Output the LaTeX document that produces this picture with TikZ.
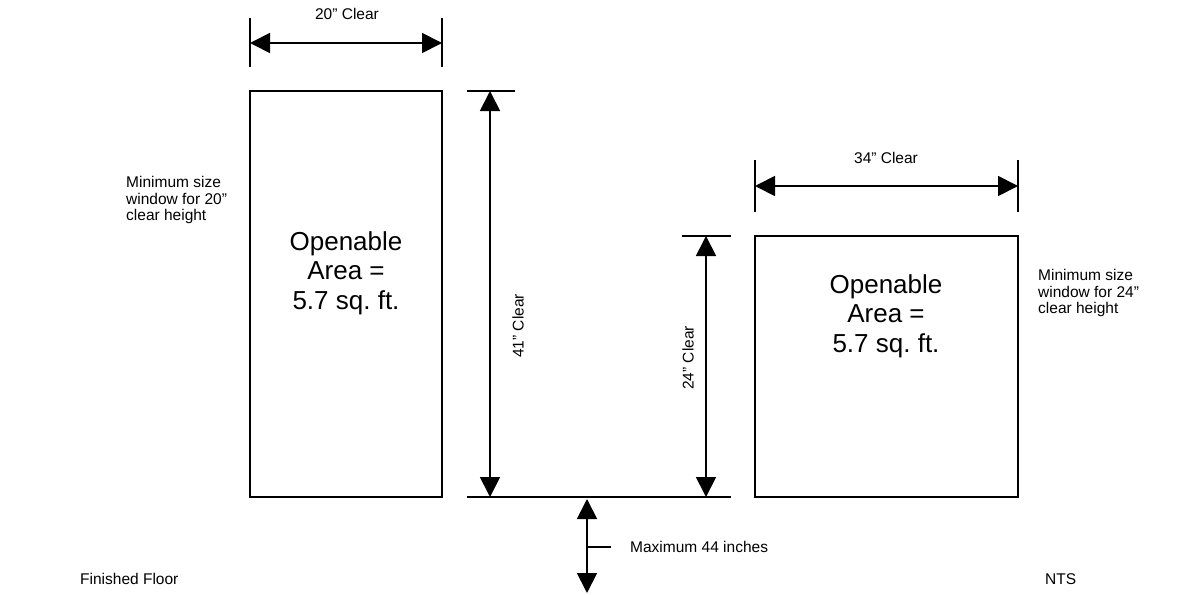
\documentclass[tikz,border=0pt]{standalone}
\usepackage{fontspec}
\setmainfont{Liberation Sans}
\usetikzlibrary{arrows.meta}
\begin{document}
\frenchspacing
\begin{tikzpicture}[x=1pt,y=-1pt,
  dim/.style={line width=1.8pt,{Triangle[length=20pt,width=20pt]}-{Triangle[length=20pt,width=20pt]}},
  ln/.style={line width=1.8pt},
  small/.style={font=\fontsize{15.5}{16.7}\selectfont,inner sep=0pt},
  big/.style={font=\fontsize{26}{29.5}\selectfont,align=center,inner sep=0pt}]
\useasboundingbox (0,0) rectangle (1177,594);
% windows
\draw[line width=1.6pt] (250,91) rectangle (442,497);
\draw[line width=1.6pt] (755,236) rectangle (1018,497);
\node[big] (t1) at (346,273) {Openable\\Area =\\5.7 sq. ft.};
\node[big] (t2) at (886,316) {Openable\\Area =\\5.7 sq. ft.};
% top 20" dimension
\coordinate (a1) at (250,18); \coordinate (a2) at (250,67);
\coordinate (b1) at (442,18); \coordinate (b2) at (442,67);
\coordinate (al) at (250,43); \coordinate (ar) at (442,43);
\draw[ln] (a1) -- (a2); \draw[ln] (b1) -- (b2);
\draw[dim] (al) -- (ar);
\node[small] (l20) at (347,14) {20” Clear};
% 34" dimension
\coordinate (c1) at (755,160); \coordinate (c2) at (755,212);
\coordinate (d1) at (1018,160); \coordinate (d2) at (1018,212);
\coordinate (cl) at (755,186); \coordinate (cr) at (1018,186);
\draw[ln] (c1) -- (c2); \draw[ln] (d1) -- (d2);
\draw[dim] (cl) -- (cr);
\node[small] (l34) at (886,158) {34” Clear};
% 41" dimension
\coordinate (e1) at (467,91); \coordinate (e2) at (515,91);
\draw[ln] (e1) -- (e2);
\coordinate (et) at (490,91); \coordinate (eb) at (490,497);
\draw[dim] (et) -- (eb);
\node[small,rotate=90] (l41) at (518,326) {41” Clear};
% 24" dimension
\coordinate (f1) at (682,236); \coordinate (f2) at (731,236);
\draw[ln] (f1) -- (f2);
\coordinate (ft) at (706,236); \coordinate (fb) at (706,497);
\draw[dim] (ft) -- (fb);
\node[small,rotate=90] (l24) at (688,358) {24” Clear};
% sill line
\coordinate (g1) at (467,497); \coordinate (g2) at (731,497);
\draw[ln] (g1) -- (g2);
% max 44 arrow
\coordinate (ht) at (587,499); \coordinate (hb) at (587,593);
\draw[dim] (ht) -- (hb);
\coordinate (hm) at (587,547); \coordinate (hn) at (611,547);
\draw[ln] (hm) -- (hn);
\node[small,anchor=west] (l44) at (630,547) {Maximum 44 inches};
% notes
\node[small,anchor=north west,align=left] (n20) at (126,176) {Minimum size\\window for 20”\\clear height};
\node[small,anchor=north west,align=left] (n24) at (1038,269) {Minimum size\\window for 24”\\clear height};
\node[small,anchor=west] (ff) at (80,579) {Finished Floor};
\node[small,anchor=west] (nts) at (1045,579) {NTS};
\end{tikzpicture}
\end{document}
